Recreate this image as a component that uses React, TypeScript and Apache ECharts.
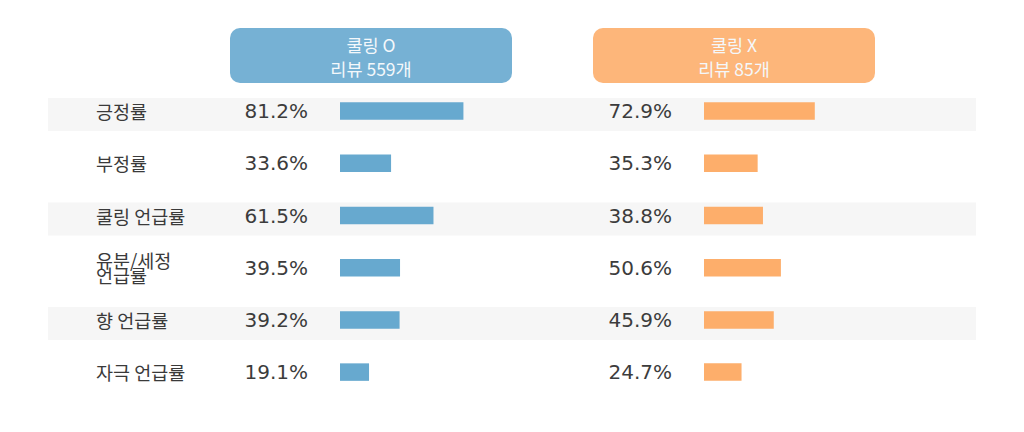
import React, { useEffect, useRef } from "react";
import * as echarts from "echarts";

const categories = ["긍정률", "부정률", "쿨링 언급률", "유분/세정\n언급률", "향 언급률", "자극 언급률"];
const coolingO = [81.2, 33.6, 61.5, 39.5, 39.2, 19.1];
const coolingX = [72.9, 35.3, 38.8, 50.6, 45.9, 24.7];
const headerO = ["쿨링 O", "리뷰 559개"];
const headerX = ["쿨링 X", "리뷰 85개"];

const BLUE = "#67a9cf";
const ORANGE = "#fdae6b";
const FONT = "'DejaVu Sans', 'Noto Sans CJK KR', sans-serif";

export default function App() {
  const ref = useRef<HTMLDivElement>(null);
  useEffect(() => {
    document.body.style.margin = "0";
    const chart = echarts.init(ref.current!, undefined, { renderer: "svg" });
    const top = 85;
    const height = 313.2;
    const pitch = height / categories.length;
    const stripes: any[] = [];
    categories.forEach((_, i) => {
      if (i % 2 === 0) {
        const cy = top + pitch * (i + 0.5);
        stripes.push({
          type: "rect",
          z: -10,
          shape: { x: 48, y: cy - 13, width: 928, height: 33 },
          style: { fill: "#f6f6f6" },
        });
      }
    });
    const header = (x: number, lines: string[], fill: string) => ({
      type: "group",
      children: [
        {
          type: "rect",
          shape: { x, y: 28, width: 282, height: 55, r: 10 },
          style: { fill },
        },
        ...lines.map((t, i) => ({
          type: "text",
          x: x + 141,
          y: 44.5 + i * 24,
          style: {
            text: t,
            fill: "#f4f8fb",
            font: `17.5px 'Noto Sans CJK KR', sans-serif`,
            align: "center",
            verticalAlign: "middle",
          },
        })),
      ],
    });
    const label = () => ({
      show: true,
      position: "left",
      distance: 32,
      formatter: (p: any) => `${p.value.toFixed(1)}%`,
      color: "#3c3c3c",
      fontSize: 20,
      fontFamily: FONT,
    });
    chart.setOption({
      animation: false,
      graphic: [...stripes, header(230, headerO, "#76b1d4"), header(593, headerX, "#fdb67a")],
      grid: [
        { left: 340, width: 152, top, height },
        { left: 704, width: 152, top, height },
      ],
      xAxis: [
        { type: "value", gridIndex: 0, min: 0, max: 100, show: false },
        { type: "value", gridIndex: 1, min: 0, max: 100, show: false },
      ],
      yAxis: [
        {
          type: "category",
          gridIndex: 0,
          data: categories,
          inverse: true,
          axisLine: { show: false },
          axisTick: { show: false },
          splitLine: { show: false },
          axisLabel: {
            align: "left",
            margin: 244,
            color: "#3a3a3a",
            fontSize: 18.5,
            fontFamily: "'Noto Sans CJK KR', sans-serif",
            lineHeight: 15,
          },
        },
        {
          type: "category",
          gridIndex: 1,
          data: categories,
          inverse: true,
          show: false,
        },
      ],
      series: [
        {
          type: "bar",
          xAxisIndex: 0,
          yAxisIndex: 0,
          data: coolingO,
          barWidth: 17.5,
          itemStyle: { color: BLUE },
          label: label(),
        },
        {
          type: "bar",
          xAxisIndex: 1,
          yAxisIndex: 1,
          data: coolingX,
          barWidth: 17.5,
          itemStyle: { color: ORANGE },
          label: label(),
        },
      ],
    });
    return () => chart.dispose();
  }, []);
  return (
    <div
      ref={ref}
      style={{ position: "absolute", left: 0, top: 0, width: 1024, height: 432 }}
    />
  );
}
